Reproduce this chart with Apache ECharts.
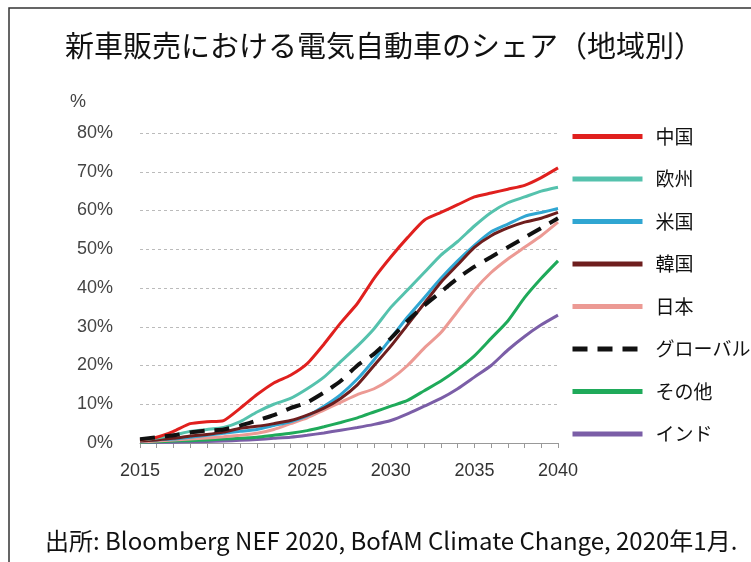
<!DOCTYPE html>
<html><head><meta charset="utf-8">
<script src="https://cdn.jsdelivr.net/npm/echarts@6/dist/echarts.min.js"></script>
<style>html,body{margin:0;padding:0;background:#fff}#c{width:751px;height:562px}</style>
</head><body><div id="c"></div>
<script>
const years = ['2015','2016','2017','2018','2019','2020','2021','2022','2023','2024','2025','2026','2027','2028','2029','2030','2031','2032','2033','2034','2035','2036','2037','2038','2039','2040'];
const china  = [0.8,1.5,3,5,5.5,5.8,9,12.5,15.5,17.5,20.5,25.5,31,36,42.5,48,53,57.5,59.5,61.5,63.5,64.5,65.5,66.5,68.5,71];
const europe = [0.8,1.3,2,3,3.5,4,5.5,8,10,11.5,14,17,21,25,29.5,35,39.5,44,48.5,52,56,59.5,62,63.5,65,66];
const usa    = [0.5,0.8,1,1.5,2,2.5,3,3.5,4.5,5.5,7,9.5,12.5,16.5,21.5,27,32.5,37.5,42.5,47,51,54.5,56.5,58.5,59.5,60.5];
const korea  = [0.5,0.8,1.2,1.8,2.2,2.8,3.8,4.3,5,5.8,7.2,9,11.5,15,20,25,30.5,36,41.5,46,50.5,53.5,55.5,57,58,59.5];
const japan  = [0.3,0.5,0.8,1,1.3,1.6,2,2.5,3.5,5,6.5,8.5,10.5,12.5,14,16.5,20,24.5,28.5,34,39.5,44,47.5,50.5,53.5,57];
const global = [1,1.5,2,2.7,3.2,3.5,4.5,5.8,7.2,9,10.5,13,16,20,23,27,31.5,35.5,39,42.5,45.5,48,50.5,53,55.5,58];
const other  = [0.2,0.3,0.5,0.6,0.8,1,1.2,1.5,2,2.5,3.2,4.2,5.3,6.5,8,9.5,11,13.5,16,19,22.5,27,31.5,37.5,42.5,47];
const india  = [0.1,0.15,0.2,0.3,0.4,0.5,0.7,0.9,1.2,1.5,2,2.6,3.3,4,4.8,5.8,7.5,9.5,11.5,14,17,20,24,27.5,30.5,33];
const yTicks = [0,10,20,30,40,50,60,70,80];

const names = ['中国','欧州','米国','韓国','日本','グローバル','その他','インド'];
function ln(name, data, color, extra) {
  return Object.assign({
    name: name, type: 'line', data: data, symbol: 'none', smooth: 0.2,
    lineStyle: { color: color, width: 3 }, itemStyle: { color: color }
  }, extra || {});
}
const chart = echarts.init(document.getElementById('c'));
chart.setOption({
  animation: false,
  backgroundColor: '#fff',
  title: {
    text: '新車販売における電気自動車のシェア（地域別）',
    left: 379, top: 26, textAlign: 'center',
    textStyle: { fontFamily: 'Noto Sans CJK JP', fontSize: 29, fontWeight: 'normal', color: '#111' }
  },
  graphic: [
    { type: 'rect', shape: { x: 9, y: 8, width: 800, height: 600 }, style: { fill: 'none', stroke: '#333', lineWidth: 1.5 }, silent: true },
    { type: 'text', left: 70, top: 93, style: { text: '%', font: '18px "Liberation Sans", Arial', fill: '#444' } },
    { type: 'text', left: 45, top: 529, style: { text: '出所: Bloomberg NEF 2020, BofAM Climate Change, 2020年1月.', font: '24px "Noto Sans CJK JP"', fill: '#111' } }
  ],
  legend: {
    data: names, orient: 'vertical', left: 565, top: 122,
    itemWidth: 70, itemHeight: 14, itemGap: 23.5,
    itemStyle: { opacity: 0 },
    textStyle: { fontFamily: 'Noto Sans CJK JP', fontSize: 19, color: '#111', padding: [0,0,0,8] },
    lineStyle: { width: 5 }
  },
  grid: { left: 140, right: 193, top: 133, bottom: 119 },
  xAxis: {
    type: 'category', data: years, boundaryGap: false,
    axisLine: { lineStyle: { color: '#999', width: 1 } },
    axisTick: { interval: 0, length: 5, lineStyle: { color: '#999' } },
    axisLabel: { interval: 4, margin: 19, fontFamily: 'Liberation Sans', fontSize: 18, color: '#333' },
    splitLine: { show: false }
  },
  yAxis: {
    type: 'value', min: 0, max: 80, interval: 10,
    axisLine: { show: false }, axisTick: { show: false },
    axisLabel: { margin: 27, formatter: '{value}%', fontFamily: 'Liberation Sans', fontSize: 18, color: '#444' },
    splitLine: { lineStyle: { color: '#bbb', type: [3, 3], width: 1 } }
  },
  series: [
    ln('インド', india, '#7b5ea7'),
    ln('その他', other, '#1faa5a'),
    ln('日本', japan, '#ec9a94'),
    ln('米国', usa, '#30a6d2'),
    ln('韓国', korea, '#6e1e1e'),
    ln('欧州', europe, '#55c2ad'),
    ln('中国', china, '#e0201e'),
    ln('グローバル', global, '#111', { lineStyle: { color: '#111', width: 4, type: [15, 10] } })
  ]
});
</script></body></html>
